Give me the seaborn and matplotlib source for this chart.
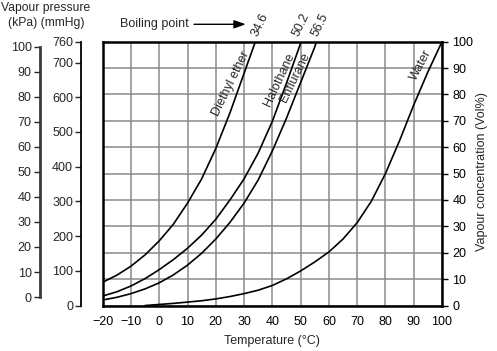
import matplotlib
matplotlib.use("Agg")
import matplotlib.pyplot as plt
import pandas as pd
import seaborn as sns

# vapour concentration (Vol%), by temperature (deg C)
ether_temp = [-20, -15, -10, -5, 0, 5, 10, 15, 20, 25, 30, 34]
ether_vol = [8.8, 11.5, 14.9, 19.2, 24.5, 30.8, 38.8, 48, 59.5, 73, 88, 100]

halo_temp = [-20, -15, -10, -5, 0, 5, 10, 15, 20, 25, 30, 35, 40, 45, 50.2]
halo_vol = [3.6, 5.2, 7.4, 10.2, 13.6, 17.4, 21.7, 26.7, 32.7, 40, 48, 57.8, 69.8, 84.3, 100]

enf_temp = [-20, -15, -10, -5, 0, 5, 10, 15, 20, 25, 30, 35, 40, 45, 50, 55, 55.6]
enf_vol = [2.1, 3.1, 4.5, 6.3, 8.6, 11.6, 15.3, 19.8, 25.2, 31.5, 38.8, 47.6, 58.6, 71, 84.5, 98, 100]

water_temp = [-5, 0, 5, 10, 15, 20, 25, 30, 35, 40, 45, 50, 55, 60, 65, 70, 75, 80, 85, 90, 95, 100]
water_vol = [0, 0.4, 0.8, 1.3, 1.8, 2.5, 3.4, 4.5, 5.8, 7.6, 10.1, 13.1, 16.5, 20.3, 25.2, 31.4,
             39.5, 50, 62.5, 76, 88.5, 100]

boiling_labels = ["34.6", "50.2", "56.5"]
kpa_ticks = list(range(0, 101, 10))
mmhg_ticks = [0, 100, 200, 300, 400, 500, 600, 700, 760]

frames = []
for name, t, v in [("Diethyl ether", ether_temp, ether_vol),
                   ("Halothane", halo_temp, halo_vol),
                   ("Enflurane", enf_temp, enf_vol),
                   ("Water", water_temp, water_vol)]:
    frames.append(pd.DataFrame({"temp": t, "vol": v, "agent": name}))
df = pd.concat(frames, ignore_index=True)

sns.set_style("white")
plt.rcParams["font.family"] = ["Liberation Sans", "DejaVu Sans"]
fs = 9

fig = plt.figure(figsize=(4.97, 3.51), dpi=100)
ax = fig.add_axes([0.2066, 0.1296, 0.6827, 0.7516])

sns.lineplot(data=df, x="temp", y="vol", hue="agent", palette=["black"] * 4,
             estimator=None, sort=False, legend=False, linewidth=1.2, ax=ax)

ax.set_xlim(-20, 100)
ax.set_ylim(0, 100)
ax.set_xticks(range(-20, 101, 10))
ax.set_yticks(range(0, 101, 10))
ax.set_axisbelow(True)
ax.grid(True, color="#8a8a8a", linewidth=1.1)
for s in ax.spines.values():
    s.set_visible(True)
    s.set_color("black")
    s.set_linewidth(1.8)
ax.set_xlabel("Temperature (°C)", fontsize=fs, labelpad=5)
ax.set_ylabel("")

# mmHg axis
ax_mm = ax.twinx()
ax_mm.set_ylim(0, 760)
ax_mm.set_yticks(mmhg_ticks)
ax_mm.yaxis.tick_left()
for k in ["right", "top", "bottom"]:
    ax_mm.spines[k].set_visible(False)
ax_mm.spines["left"].set_visible(True)
ax_mm.spines["left"].set_position(("outward", 15.3))
ax_mm.spines["left"].set_bounds(0, 760)
ax_mm.spines["left"].set_linewidth(1.3)
ax_mm.spines["left"].set_color("black")
ax_mm.tick_params(axis="y", direction="out", length=4, width=1, labelsize=fs, pad=2)
ax_mm.grid(False)

# kPa axis
ax_kpa = ax.twinx()
ax_kpa.set_ylim(-3.4, 102.1)
ax_kpa.set_yticks(kpa_ticks)
ax_kpa.yaxis.tick_left()
for k in ["right", "top", "bottom"]:
    ax_kpa.spines[k].set_visible(False)
ax_kpa.spines["left"].set_visible(True)
ax_kpa.spines["left"].set_position(("outward", 45.1))
ax_kpa.spines["left"].set_bounds(0, 100)
ax_kpa.spines["left"].set_linewidth(2)
ax_kpa.spines["left"].set_color("#3a3a3a")
ax_kpa.tick_params(axis="y", direction="out", length=4, width=1, labelsize=fs, pad=2)
ax_kpa.grid(False)

# vol% ticks on the right (twinx moves them left, so set after)
ax.yaxis.tick_right()
ax.tick_params(axis="both", direction="out", length=4, width=1, colors="black",
               labelsize=fs, pad=3.5)

# curve labels, just left of each curve
ax.text(25.4, 84.0, "Diethyl ether", rotation=64, rotation_mode="anchor",
        ha="center", va="center", fontsize=fs)
ax.text(42.4, 85.7, "Halothane", rotation=65, rotation_mode="anchor",
        ha="center", va="center", fontsize=fs)
ax.text(48.2, 86.4, "Enflurane", rotation=64, rotation_mode="anchor",
        ha="center", va="center", fontsize=fs)
ax.text(92.7, 91, "Water", rotation=62, rotation_mode="anchor",
        ha="center", va="center", fontsize=fs)

# boiling points
for bx, lab in zip([35.8, 50.3, 57.0], boiling_labels):
    ax.text(bx, 106.4, lab, rotation=64, rotation_mode="anchor",
            ha="center", va="center", fontsize=fs, clip_on=False)
ax.text(10.5, 106.6, "Boiling point", ha="right", va="center", fontsize=fs)
ax.annotate("", xy=(30.6, 106.6), xytext=(12.3, 106.6), annotation_clip=False,
            arrowprops=dict(arrowstyle="-|>,head_length=0.7,head_width=0.25",
                            color="black", lw=1, mutation_scale=10,
                            shrinkA=0, shrinkB=0))

fig.text(46 / 497, 1 - 7.5 / 351, "Vapour pressure", ha="center", va="center", fontsize=8.7)
fig.text(46 / 497, 1 - 23 / 351, "(kPa) (mmHg)", ha="center", va="center", fontsize=8.7)
fig.text(482 / 497, 1 - 172 / 351, "Vapour concentration (Vol%)", rotation=90,
         ha="center", va="center", fontsize=fs)

fig.savefig("out.png", dpi=100)
